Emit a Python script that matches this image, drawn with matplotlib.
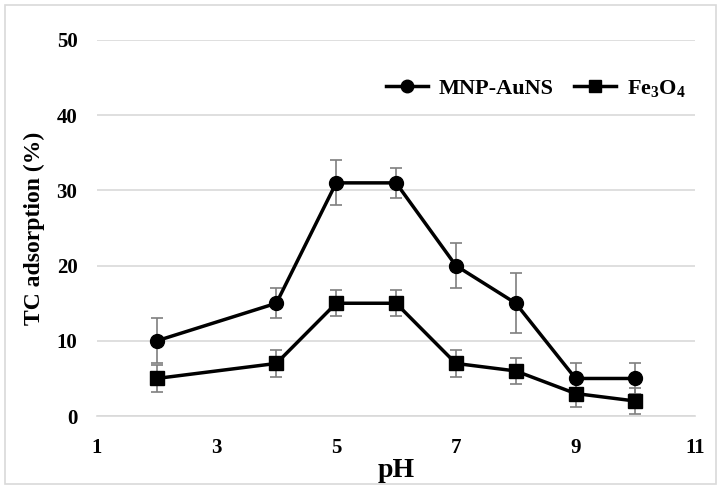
import matplotlib
matplotlib.use("Agg")
import matplotlib.pyplot as plt
from matplotlib.patches import Rectangle
from matplotlib.lines import Line2D

plt.rcParams["font.family"] = "Liberation Serif"
plt.rcParams["font.weight"] = "bold"
plt.rcParams["mathtext.fontset"] = "custom"
plt.rcParams["mathtext.rm"] = "Liberation Serif:bold"
plt.rcParams["mathtext.it"] = "Liberation Serif:bold"

ph = [2, 4, 5, 6, 7, 8, 9, 10]
mnp_auns = [10, 15, 31, 31, 20, 15, 5, 5]
mnp_auns_err = [3, 2, 3, 2, 3, 4, 2, 2]
fe3o4 = [5, 7, 15, 15, 7, 6, 3, 2]
fe3o4_err = [1.75, 1.75, 1.75, 1.75, 1.75, 1.75, 1.75, 1.75]

fig = plt.figure(figsize=(7.28, 4.93), dpi=100)
ax = fig.add_axes([0.133, 0.156, 0.822, 0.763])

# outer frame like the exported chart area
fig.patches.append(Rectangle((0.007, 0.018), 0.977, 0.972, transform=fig.transFigure,
                             fill=False, edgecolor="#d9d9d9", linewidth=1.2))

err_kw = dict(ecolor="#7f7f7f", elinewidth=1.2, capsize=4, capthick=1.2)
ax.errorbar(ph, mnp_auns, yerr=mnp_auns_err, color="black", linewidth=2.5,
            marker="o", markersize=10, zorder=3, **err_kw)
ax.errorbar(ph, fe3o4, yerr=fe3o4_err, color="black", linewidth=2.5,
            marker="s", markersize=10, zorder=3, **err_kw)

ax.set_xlim(1, 11)
ax.set_ylim(0, 50)
ax.set_xticks([1, 3, 5, 7, 9, 11])
ax.set_yticks([0, 10, 20, 30, 40, 50])
ax.tick_params(length=0, labelsize=15)
ax.tick_params(axis="x", pad=16)
ax.tick_params(axis="y", pad=14)
ax.grid(axis="y", color="#d9d9d9", linewidth=1.2)
ax.set_axisbelow(True)
for s in ["left", "right", "top"]:
    ax.spines[s].set_visible(False)
ax.spines["bottom"].set_color("#d9d9d9")
ax.spines["bottom"].set_linewidth(1.2)

ax.set_xlabel("pH", fontsize=20, fontweight="bold", labelpad=0)
ax.set_ylabel("TC adsorption (%)", fontsize=17, fontweight="bold", labelpad=8)

handles = [
    Line2D([], [], color="black", linewidth=2.5, marker="o", markersize=9),
    Line2D([], [], color="black", linewidth=2.5, marker="s", markersize=9),
]
ax.legend(handles, ["MNP-AuNS", "Fe$_3$O$_4$"], loc="center right",
          bbox_to_anchor=(1.0, 0.872), ncol=2, frameon=True,
          facecolor="white", edgecolor="none", fontsize=16, handlelength=1.9,
          columnspacing=0.9, handletextpad=0.5, borderaxespad=0)

fig.savefig("out.png", dpi=100)
